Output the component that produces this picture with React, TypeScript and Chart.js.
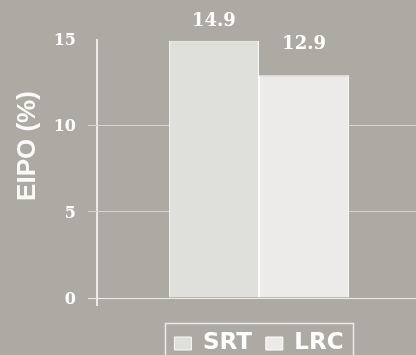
import React, { useEffect, useRef } from "react";
import { Chart, registerables } from "chart.js";

Chart.register(...registerables);

// Chart data
const categories = [""];
const seriesNames = ["SRT", "LRC"];
const srtValues = [14.9];
const lrcValues = [12.9];
const yTicks = [0, 5, 10, 15];
const yAxisTitle = "EIPO (%)";

const BG = "#ADAAA3";
const WHITE = "#FFFFFF";

// Rotated axis title drawn beside the value axis
const axisTitlePlugin = {
  id: "axisTitle",
  afterDraw(chart: any) {
    const { ctx } = chart;
    ctx.save();
    ctx.translate(35, 146);
    ctx.rotate(-Math.PI / 2);
    ctx.font = 'bold 26px "Liberation Sans", Arial, sans-serif';
    ctx.fillStyle = "#FAFAF8";
    ctx.textAlign = "center";
    ctx.textBaseline = "alphabetic";
    ctx.fillText(yAxisTitle, 0, 0);
    ctx.restore();
  },
};

// Value labels above each bar
const valueLabelPlugin = {
  id: "valueLabels",
  afterDatasetsDraw(chart: any) {
    const { ctx } = chart;
    ctx.save();
    ctx.font = 'bold 18px "DejaVu Serif", serif';
    ctx.fillStyle = WHITE;
    ctx.textAlign = "center";
    ctx.textBaseline = "alphabetic";
    chart.data.datasets.forEach((ds: any, di: number) => {
      const meta = chart.getDatasetMeta(di);
      meta.data.forEach((bar: any, i: number) => {
        const v = ds.data[i];
        const y = Math.max(bar.y - 26, 26);
        ctx.fillText(v.toFixed(1), bar.x, y);
      });
    });
    ctx.restore();
  },
};

// Centre the legend under the plot area rather than the whole canvas
const legendAlignPlugin = {
  id: "legendAlign",
  afterLayout(chart: any) {
    const legend = chart.legend;
    const area = chart.chartArea;
    if (!legend || !area) return;
    legend.left = area.left;
    legend.right = area.right;
    legend.width = area.right - area.left;
  },
};

// Frame around the legend
const legendFramePlugin = {
  id: "legendFrame",
  afterDraw(chart: any) {
    const legend = chart.legend;
    if (!legend || !legend.legendHitBoxes || !legend.legendHitBoxes.length) return;
    const boxes = legend.legendHitBoxes;
    const first = boxes[0];
    const last = boxes[boxes.length - 1];
    const left = Math.round(first.left - 9) + 0.5;
    const right = Math.round(last.left + last.width + 9) + 0.5;
    const top = Math.round(first.top - 9) + 0.5;
    const { ctx } = chart;
    ctx.save();
    ctx.strokeStyle = "#ECEBE8";
    ctx.lineWidth = 1.5;
    ctx.strokeRect(left, top, right - left, 60);
    ctx.restore();
  },
};

export default function App() {
  const canvasRef = useRef<HTMLCanvasElement | null>(null);

  useEffect(() => {
    if (!canvasRef.current) return;
    const chart = new Chart(canvasRef.current, {
      type: "bar",
      data: {
        labels: categories,
        datasets: [
          {
            label: seriesNames[0],
            data: srtValues,
            backgroundColor: "#DFE0DC",
            borderColor: "#FAFAF8",
            borderWidth: 1,
          },
          {
            label: seriesNames[1],
            data: lrcValues,
            backgroundColor: "#ECEBE9",
            borderColor: "#FFFFFF",
            borderWidth: 1,
          },
        ],
      },
      options: {
        animation: false,
        responsive: true,
        maintainAspectRatio: false,
        layout: { padding: { top: 39, right: 0, bottom: 0, left: 0 } },
        datasets: {
          bar: { barPercentage: 1, categoryPercentage: 0.556 },
        },
        scales: {
          x: {
            offset: true,
            border: { display: false },
            ticks: { display: false },
            grid: {
              offset: true,
              drawOnChartArea: true,
              tickLength: 8,
              lineWidth: 2,
              color: (c: any) => (c.index === 0 ? "#ECEBE8" : "rgba(0,0,0,0)"),
            },
            afterFit: (scale: any) => {
              scale.height = 20;
            },
          },
          y: {
            min: 0,
            max: 15,
            border: { display: false },
            afterBuildTicks: (scale: any) => {
              scale.ticks = yTicks.map((v) => ({ value: v }));
            },
            ticks: {
              color: WHITE,
              padding: 12,
              labelOffset: 2,
              font: { family: '"DejaVu Serif", serif', weight: "bold", size: 16 },
            },
            grid: {
              tickLength: 9,
              lineWidth: 1,
              color: (c: any) => {
                const v = c.tick ? c.tick.value : null;
                if (v === 0) return "#EEEDEA";
                if (v === 15) return "rgba(0,0,0,0)";
                return "#D6D4CF";
              },
            },
            afterFit: (scale: any) => {
              scale.width = 97;
            },
          },
        },
        plugins: {
          legend: {
            position: "bottom",
            maxHeight: 37,
            labels: {
              color: WHITE,
              boxWidth: 17,
              boxHeight: 13,
              padding: 14,
              font: { family: '"DejaVu Sans", sans-serif', weight: "bold", size: 23 },
            },
          },
          tooltip: { enabled: false },
          title: { display: false },
        },
      },
      plugins: [axisTitlePlugin, valueLabelPlugin, legendAlignPlugin, legendFramePlugin],
    });
    return () => chart.destroy();
  }, []);

  // The plot area runs a few pixels past the right edge of the frame
  return (
    <div
      style={{
        position: "fixed",
        left: 0,
        top: 0,
        width: 416,
        height: 355,
        background: BG,
        overflow: "hidden",
      }}
    >
      <div style={{ position: "relative", width: 421, height: 355 }}>
        <canvas ref={canvasRef} />
      </div>
    </div>
  );
}
